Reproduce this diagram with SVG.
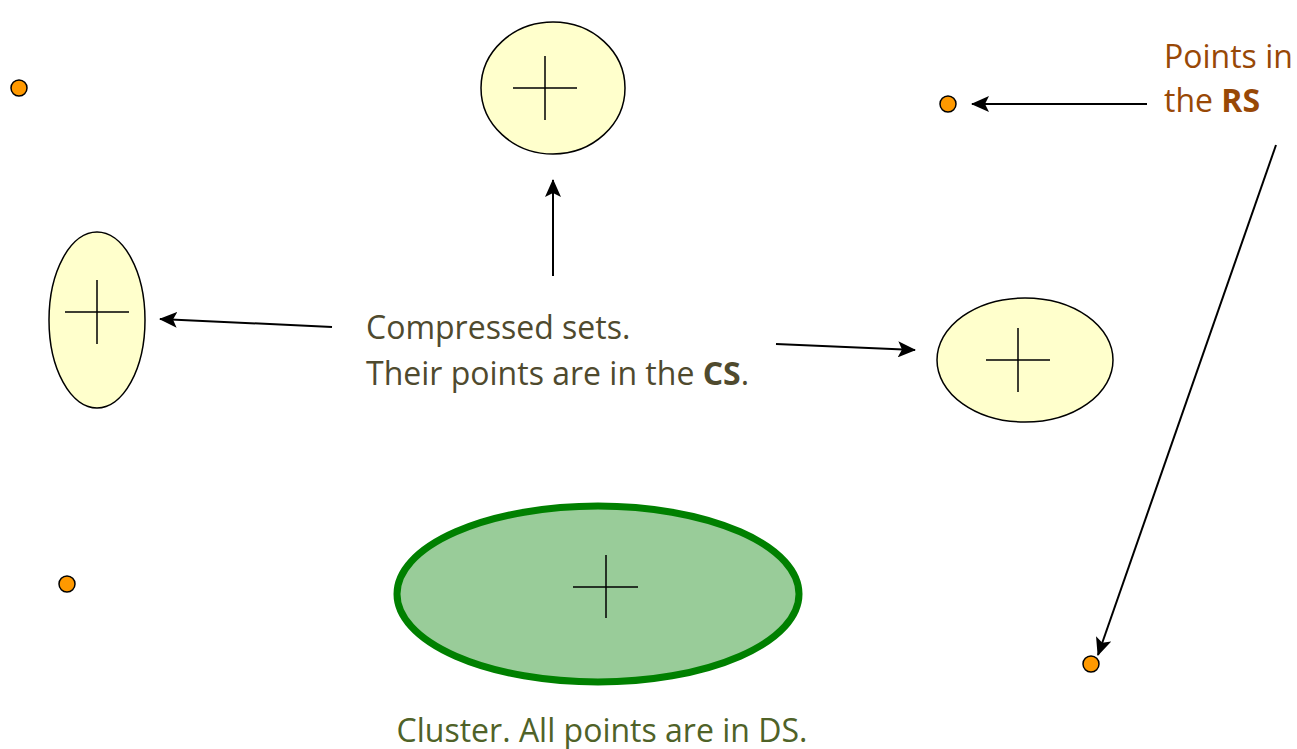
<svg xmlns="http://www.w3.org/2000/svg" width="1297" height="749" viewBox="0 0 1297 749">
<style>
.pt{fill:#FF9900;stroke:#000;stroke-width:1.5}
.cs{fill:#FFFFCC;stroke:#000;stroke-width:1.5}
.cross{stroke:#000;stroke-width:1.5;fill:none}
.conn line{stroke:#000;stroke-width:2}
text{font-family:"Open Sans","Noto Sans",sans-serif;font-size:32px}
.t1{fill:#4F4A2E}
.t2{fill:#4F6228}
.t3{fill:#984806}
</style>
<defs>
<marker id="ah" viewBox="0 0 18 16" refX="17" refY="8" markerWidth="18" markerHeight="16" markerUnits="userSpaceOnUse" orient="auto">
<path d="M0,0 L18,8 L0,16 L4,8 Z" fill="#000"/>
</marker>
</defs>
<g id="p1"><circle class="pt" cx="19" cy="88" r="8"/></g>
<g id="p2"><circle class="pt" cx="948" cy="104" r="8"/></g>
<g id="p3"><circle class="pt" cx="67" cy="584" r="8"/></g>
<g id="p4"><circle class="pt" cx="1091" cy="664" r="8"/></g>
<g id="csTop"><ellipse class="cs" cx="553" cy="88" rx="72" ry="66"/><path class="cross" d="M513,88H577M545,56V120"/></g>
<g id="csLeft"><ellipse class="cs" cx="97" cy="320" rx="48" ry="88"/><path class="cross" d="M65,312H129M97,280V344"/></g>
<g id="csRight"><ellipse class="cs" cx="1025" cy="360" rx="88" ry="62"/><path class="cross" d="M986,360H1050M1018,328V392"/></g>
<g id="cluster"><ellipse cx="598" cy="594" rx="201" ry="88" fill="#99CC99" stroke="#008000" stroke-width="7"/><path class="cross" d="M573,587H638M606,555V618"/></g>
<g class="conn" id="connectors">
<line x1="1147" y1="104" x2="972" y2="104" marker-end="url(#ah)"/>
<line x1="1276" y1="145" x2="1098" y2="655" marker-end="url(#ah)"/>
<line x1="553" y1="276" x2="553" y2="180" marker-end="url(#ah)"/>
<line x1="332" y1="327" x2="160" y2="319" marker-end="url(#ah)"/>
<line x1="776" y1="344" x2="915" y2="350" marker-end="url(#ah)"/>
</g>
<g id="labelCS"><text class="t1" x="366" y="339">Compressed sets.</text><text class="t1" x="366" y="385">Their points are in the <tspan font-weight="bold">CS</tspan>.</text></g>
<g id="labelRS"><text class="t3" x="1164" y="68">Points in</text><text class="t3" x="1164" y="112">the <tspan font-weight="bold">RS</tspan></text></g>
<g id="labelDS"><text class="t2" x="602" y="742" text-anchor="middle">Cluster. All points are in DS.</text></g>
</svg>
